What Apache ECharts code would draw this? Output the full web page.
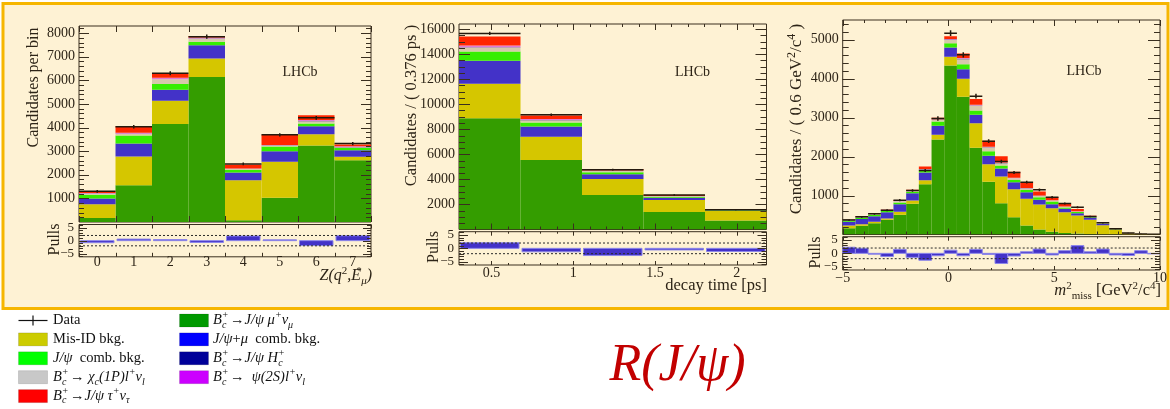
<!DOCTYPE html>
<html>
<head>
<meta charset="utf-8">
<title>R(J/ψ)</title>
<script src="https://cdn.jsdelivr.net/npm/echarts@6.0.0/dist/echarts.min.js"></script>
<style>
  html, body { margin: 0; padding: 0; background: #ffffff; }
  #chart { width: 1170px; height: 409px; }
</style>
</head>
<body>
<div id="chart"></div>
<script>
// ---------- Z(q^2, E*_mu) fit projection ----------
const zEdges    = [-0.5, 0.5, 1.5, 2.5, 3.5, 4.5, 5.5, 6.5, 7.5];
const zMu       = [170, 1560, 4150, 6140, 70, 1030, 3240, 2620];
const zMisId    = [580, 1210, 980, 780, 1700, 1520, 480, 140];
const zCombMu   = [250, 550, 470, 560, 330, 450, 340, 280];
const zJpsiComb = [150, 340, 240, 150, 110, 200, 110, 90];
const zChic     = [50, 70, 200, 130, 30, 40, 100, 40];
const zHc       = [5, 10, 10, 10, 5, 5, 10, 5];
const zPsi2S    = [20, 40, 60, 40, 20, 20, 40, 30];
const zTau      = [70, 270, 170, 70, 160, 430, 200, 80];
const zData     = [1300, 4030, 6300, 7850, 2460, 3690, 4410, 3320];
const zErr      = [60, 75, 85, 95, 55, 65, 75, 65];
const zPull     = [-0.8, 0.6, 0.4, -0.7, 1.8, 0.3, -1.9, 1.9];
const zTickLabels = [0, 1, 2, 3, 4, 5, 6, 7];
const zCountLabels = [1000, 2000, 3000, 4000, 5000, 6000, 7000, 8000];

// ---------- decay time fit projection ----------
const tEdges    = [0.302, 0.678, 1.054, 1.430, 1.806, 2.182];
const tMu       = [8880, 5550, 2750, 1390, 720];
const tMisId    = [2750, 1860, 1280, 960, 750];
const tCombMu   = [1840, 800, 370, 180, 50];
const tJpsiComb = [740, 320, 160, 80, 30];
const tChic     = [320, 190, 110, 40, 20];
const tHc       = [20, 10, 5, 5, 0];
const tPsi2S    = [140, 80, 30, 20, 10];
const tTau      = [720, 290, 130, 80, 20];
const tData     = [15650, 9150, 4770, 2750, 1570];
const tErr      = [130, 100, 70, 55, 40];
const tPull     = [2.1, -1.3, -2.7, -0.6, -1.2];
const tTickLabels = [0.5, 1, 1.5, 2];
const tCountLabels = [2000, 4000, 6000, 8000, 10000, 12000, 14000, 16000];

// ---------- m^2_miss fit projection ----------
const mEdges    = [-5, -4.4, -3.8, -3.2, -2.6, -2, -1.4, -0.8, -0.2, 0.4, 1, 1.6, 2.2,
                   2.8, 3.4, 4, 4.6, 5.2, 5.8, 6.4, 7, 7.6, 8.2, 8.8, 9.4, 10];
const mMu       = [160, 222, 290, 376, 504, 786, 1290, 2436, 4333, 3530, 2222, 1350, 803, 444, 230, 128, 68, 40, 25, 15, 8, 5, 2, 1, 0];
const mMisId    = [70, 43, 35, 34, 77, 86, 100, 120, 222, 461, 633, 453, 684, 718, 684, 641, 607, 533, 462, 361, 232, 123, 32, 11, 5];
const mCombMu   = [100, 135, 145, 163, 197, 188, 200, 230, 240, 248, 213, 214, 205, 180, 171, 120, 103, 85, 60, 60, 30, 7, 2, 1, 0];
const mJpsiComb = [30, 27, 34, 34, 42, 34, 50, 111, 111, 128, 111, 120, 78, 58, 55, 68, 68, 32, 28, 14, 10, 3, 1, 0, 0];
const mChic     = [15, 18, 16, 18, 30, 21, 27, 43, 84, 129, 121, 93, 60, 40, 40, 33, 24, 20, 15, 10, 10, 3, 1, 0, 0];
const mHc       = [2, 2, 2, 3, 3, 4, 5, 6, 8, 8, 6, 5, 4, 3, 3, 2, 2, 2, 1, 1, 1, 0, 0, 0, 0];
const mPsi2S    = [3, 5, 3, 5, 5, 5, 8, 10, 15, 20, 20, 15, 15, 10, 10, 8, 7, 5, 5, 3, 2, 1, 0, 0, 0];
const mTau      = [7, 20, 7, 11, 25, 25, 65, 40, 72, 116, 150, 155, 155, 157, 143, 102, 80, 71, 55, 15, 8, 3, 2, 1, 0];
const mData     = [370, 453, 530, 624, 880, 1128, 1640, 2974, 5162, 4607, 3547, 2393, 1872, 1590, 1342, 1145, 957, 795, 700, 462, 300, 145, 40, 15, 5];
const mErr      = [20, 21, 23, 25, 30, 34, 40, 55, 72, 68, 60, 49, 43, 40, 37, 34, 31, 28, 26, 21, 17, 12, 6, 4, 2];
const mPull     = [2.3, 1.9, -0.3, -1.2, 1.5, -1.5, -2.6, -0.9, 1.2, -0.9, 1.5, -0.4, -3.8, -1.0, 0.6, 1.6, -0.6, 1.0, 2.9, 0.6, 1.6, -0.6, -0.8, 1.0, -0.2];
const mTickLabels = [-5, 0, 5, 10];
const mCountLabels = [1000, 2000, 3000, 4000, 5000];

const pullLabels = [-5, 0, 5];
const pullBands = [2, -2];

// ---------- styling ----------
const FONT = '"Liberation Serif","Times New Roman",Times,serif';
const INK = '#2d2417';
const FRAME = '#3a2f1f';
const PANEL_BG = '#fef2d4';
const BORDER = '#f6b600';

const STACK_ORDER = ['mu', 'misId', 'combMu', 'jpsiComb', 'chic', 'hc', 'psi2s', 'tau'];
const FILL = {
  mu: '#349d00', misId: '#d5c600', combMu: '#4332c8', jpsiComb: '#36ee00',
  chic: '#d6c9ab', hc: '#23207a', psi2s: '#e07bd6', tau: '#ff2600'
};
const PULL_FILL = '#4332c8';
const PULL_EDGE = '#8c86ea';
const PULL_RANGE = [-6.25, 6.25];

const seq = (a, b, s) => { const out = []; for (let v = a; v <= b + 1e-9; v += s) out.push(Math.round(v * 1e6) / 1e6); return out; };
const signed = v => (v < 0 ? '\u2212' + Math.abs(v) : String(v));

const panels = [
  {
    edges: zEdges, comps: { mu: zMu, misId: zMisId, combMu: zCombMu, jpsiComb: zJpsiComb, chic: zChic, hc: zHc, psi2s: zPsi2S, tau: zTau },
    data: zData, err: zErr, pull: zPull,
    left: 79, width: 292, mainTop: 26, mainH: 196, pullTop: 224.5, pullH: 32.3,
    xMin: -0.5, xMax: 7.5, yMax: 8300,
    xMajor: zEdges, xMinor: [], xLabels: zTickLabels,
    yMajor: zCountLabels, yMinor: seq(200, 8200, 200), yLabels: zCountLabels,
    len: { yMaj: 10, yMin: 5, xMaj: 6, xMin: 3, pyMaj: 8, pyMin: 4, pxMaj: 4, pxMin: 2 },
    xLabelMargin: -1, pullInset: 1.5
  },
  {
    edges: tEdges, comps: { mu: tMu, misId: tMisId, combMu: tCombMu, jpsiComb: tJpsiComb, chic: tChic, hc: tHc, psi2s: tPsi2S, tau: tTau },
    data: tData, err: tErr, pull: tPull,
    left: 459, width: 307.5, mainTop: 24, mainH: 205.5, pullTop: 231.7, pullH: 33.3,
    xMin: 0.302, xMax: 2.182, yMax: 16400,
    xMajor: tTickLabels, xMinor: seq(0.4, 2.1, 0.1), xLabels: tTickLabels,
    yMajor: tCountLabels, yMinor: seq(500, 16000, 500), yLabels: tCountLabels,
    len: { yMaj: 11, yMin: 6, xMaj: 6, xMin: 3, pyMaj: 9, pyMin: 5, pxMaj: 4, pxMin: 2 },
    xLabelMargin: 1.3, pullInset: 1.5
  },
  {
    edges: mEdges, comps: { mu: mMu, misId: mMisId, combMu: mCombMu, jpsiComb: mJpsiComb, chic: mChic, hc: mHc, psi2s: mPsi2S, tau: mTau },
    data: mData, err: mErr, pull: mPull,
    left: 842.7, width: 317.3, mainTop: 20, mainH: 214.5, pullTop: 236.7, pullH: 33.3,
    xMin: -5, xMax: 10, yMax: 5500,
    xMajor: mTickLabels, xMinor: seq(-4, 9, 1), xLabels: mTickLabels,
    yMajor: mCountLabels, yMinor: seq(200, 5400, 200), yLabels: mCountLabels,
    len: { yMaj: 12, yMin: 6, xMaj: 6, xMin: 3, pyMaj: 9, pyMin: 5, pxMaj: 4, pxMin: 2 },
    xLabelMargin: 1.3, pullInset: 0
  }
];

const grids = [], xAxes = [], yAxes = [], series = [];

// one value axis per side that carries the tick labels; tick marks are drawn by frameTicks()
function labelAxis(list, extra) {
  list.push(Object.assign({
    type: 'value',
    axisLine: { show: false, onZero: false },
    axisTick: { show: false },
    splitLine: { show: false },
    axisPointer: { show: false }
  }, extra));
  return list.length - 1;
}

// inward ticks on all four sides of a frame, placed through the axes' own scales
function frameTicks(xi, yi, xr, yr, spec) {
  const rows = [];
  spec.xMaj.forEach(v => rows.push([v, 0, spec.xMajLen]));
  spec.xMin.forEach(v => rows.push([v, 0, spec.xMinLen]));
  spec.yMaj.forEach(v => rows.push([v, 1, spec.yMajLen]));
  spec.yMin.forEach(v => rows.push([v, 1, spec.yMinLen]));
  series.push({
    type: 'custom', name: 'ticks', xAxisIndex: xi, yAxisIndex: yi, clip: false, silent: true, z: 8,
    data: rows,
    renderItem(params, api) {
      const v = api.value(0), kind = api.value(1), L = api.value(2);
      const st = { stroke: FRAME, lineWidth: 1 };
      if (kind === 0) {
        const b = api.coord([v, yr[0]]), t = api.coord([v, yr[1]]);
        const x = Math.round(b[0]) + 0.5;
        return { type: 'group', children: [
          { type: 'line', shape: { x1: x, y1: b[1], x2: x, y2: b[1] - L }, style: st },
          { type: 'line', shape: { x1: x, y1: t[1], x2: x, y2: t[1] + L }, style: st }
        ] };
      }
      const l = api.coord([xr[0], v]), r = api.coord([xr[1], v]);
      const y = Math.round(l[1]) + 0.5;
      return { type: 'group', children: [
        { type: 'line', shape: { x1: l[0], y1: y, x2: l[0] + L, y2: y }, style: st },
        { type: 'line', shape: { x1: r[0], y1: y, x2: r[0] - L, y2: y }, style: st }
      ] };
    }
  });
}

function binRect(inset) {
  return function (params, api) {
    const p0 = api.coord([api.value(0), api.value(2)]);
    const p1 = api.coord([api.value(1), api.value(3)]);
    const x = Math.min(p0[0], p1[0]) + inset, y = Math.min(p0[1], p1[1]);
    const w = Math.abs(p1[0] - p0[0]) - 2 * inset, h = Math.abs(p1[1] - p0[1]);
    return { type: 'rect', shape: { x, y, width: w, height: h }, style: api.style() };
  };
}

function dataCross(params, api) {
  const a = api.coord([api.value(0), api.value(2)]);
  const b = api.coord([api.value(1), api.value(2)]);
  const xc = (a[0] + b[0]) / 2;
  const hi = api.coord([api.value(0), api.value(2) + api.value(3)])[1];
  const lo = api.coord([api.value(0), api.value(2) - api.value(3)])[1];
  const st = { stroke: '#24190d', lineWidth: 1.5 };
  return { type: 'group', children: [
    { type: 'line', shape: { x1: a[0], y1: a[1], x2: b[0], y2: b[1] }, style: st },
    { type: 'line', shape: { x1: xc, y1: hi, x2: xc, y2: lo }, style: st }
  ] };
}

function bandLine(params, api) {
  const a = api.coord([api.value(0), api.value(2)]);
  const b = api.coord([api.value(1), api.value(2)]);
  return { type: 'line', shape: { x1: a[0], y1: a[1], x2: b[0], y2: b[1] },
    style: { stroke: '#2a2a2a', lineWidth: 1, lineDash: [2, 2] } };
}

panels.forEach(P => {
  const gridBase = { left: P.left, width: P.width, show: true, borderColor: FRAME, borderWidth: 1,
    backgroundColor: 'transparent', containLabel: false, outerBoundsMode: 'none' };
  const gMain = grids.length;
  grids.push(Object.assign({}, gridBase, { top: P.mainTop, height: P.mainH }));
  const gPull = grids.length;
  grids.push(Object.assign({}, gridBase, { top: P.pullTop, height: P.pullH }));

  const xm = labelAxis(xAxes, { gridIndex: gMain, min: P.xMin, max: P.xMax, position: 'bottom', axisLabel: { show: false } });
  const ym = labelAxis(yAxes, { gridIndex: gMain, min: 0, max: P.yMax, position: 'left',
    axisLabel: { show: true, customValues: P.yLabels, formatter: signed, margin: 4, hideOverlap: false,
      color: INK, fontFamily: FONT, fontSize: 14 } });
  const xp = labelAxis(xAxes, { gridIndex: gPull, min: P.xMin, max: P.xMax, position: 'bottom',
    axisLabel: { show: true, customValues: P.xLabels, formatter: signed, margin: P.xLabelMargin, hideOverlap: false,
      color: INK, fontFamily: FONT, fontSize: 14 } });
  const yp = labelAxis(yAxes, { gridIndex: gPull, min: PULL_RANGE[0], max: PULL_RANGE[1], position: 'left',
    axisLabel: { show: true, customValues: pullLabels, formatter: signed, margin: 5, hideOverlap: false,
      color: INK, fontFamily: FONT, fontSize: 13 } });

  // stacked fit components
  const nBins = P.edges.length - 1;
  const base = new Array(nBins).fill(0);
  STACK_ORDER.forEach(key => {
    const vals = P.comps[key];
    const rows = vals.map((v, i) => { const r = [P.edges[i], P.edges[i + 1], base[i], base[i] + v]; base[i] += v; return r; });
    series.push({ type: 'custom', name: key, xAxisIndex: xm, yAxisIndex: ym, clip: true, silent: true,
      renderItem: binRect(0), data: rows, itemStyle: { color: FILL[key] }, z: 2 });
  });

  // data points with horizontal bin extent and vertical error
  series.push({ type: 'custom', name: 'data', xAxisIndex: xm, yAxisIndex: ym, clip: true, silent: true, z: 5,
    renderItem: dataCross, data: P.data.map((v, i) => [P.edges[i], P.edges[i + 1], v, P.err[i]]) });

  // pulls
  series.push({ type: 'custom', name: 'pulls', xAxisIndex: xp, yAxisIndex: yp, clip: true, silent: true, z: 3,
    renderItem: binRect(P.pullInset), itemStyle: { color: PULL_FILL, borderColor: PULL_EDGE, borderWidth: 1 },
    data: P.pull.map((v, i) => [P.edges[i], P.edges[i + 1], 0, v]) });
  series.push({ type: 'custom', name: 'bands', xAxisIndex: xp, yAxisIndex: yp, clip: true, silent: true, z: 4,
    renderItem: bandLine, data: pullBands.map(b => [P.xMin, P.xMax, b]) });

  frameTicks(xm, ym, [P.xMin, P.xMax], [0, P.yMax], {
    xMaj: P.xMajor, xMajLen: P.len.xMaj, xMin: P.xMinor, xMinLen: P.len.xMin,
    yMaj: P.yMajor, yMajLen: P.len.yMaj, yMin: P.yMinor, yMinLen: P.len.yMin });
  frameTicks(xp, yp, [P.xMin, P.xMax], PULL_RANGE, {
    xMaj: P.xMajor, xMajLen: P.len.pxMaj, xMin: P.xMinor, xMinLen: P.len.pxMin,
    yMaj: pullLabels, yMajLen: P.len.pyMaj, yMin: seq(-6, 6, 1), yMinLen: P.len.pyMin });
});

// ---------- text ----------
function richSet(size, color) {
  const sm = Math.round(size * 0.68);
  const base = { fontFamily: FONT, fill: color };
  return {
    n: Object.assign({}, base, { fontSize: size, lineHeight: size + 5 }),
    i: Object.assign({}, base, { fontSize: size, fontStyle: 'italic', lineHeight: size + 5 }),
    sup: Object.assign({}, base, { fontSize: sm, fontStyle: 'italic', lineHeight: sm - 2, verticalAlign: 'top' }),
    supz: Object.assign({}, base, { fontSize: sm, fontStyle: 'italic', lineHeight: sm - 2, verticalAlign: 'top', width: 0.1 }),
    supn: Object.assign({}, base, { fontSize: sm, lineHeight: sm - 2, verticalAlign: 'top' }),
    sub: Object.assign({}, base, { fontSize: sm, fontStyle: 'italic', lineHeight: sm - 2, verticalAlign: 'bottom' }),
    subn: Object.assign({}, base, { fontSize: sm, lineHeight: sm - 2, verticalAlign: 'bottom' })
  };
}

function label(x, y, text, size, opts) {
  opts = opts || {};
  return {
    type: 'text', x, y, rotation: opts.rotation || 0, silent: true, z: 10,
    style: { text, fontFamily: FONT, fontSize: size, fill: opts.color || INK, fontStyle: opts.italic ? 'italic' : 'normal',
      align: opts.align || 'center', verticalAlign: 'middle', rich: richSet(size, opts.color || INK) }
  };
}

const graphics = [
  { type: 'rect', z: -10, silent: true, shape: { x: 3, y: 3.5, width: 1165, height: 305 },
    style: { fill: PANEL_BG, stroke: BORDER, lineWidth: 3 } },

  label(34, 87.5, '{n|Candidates per bin}', 16, { rotation: Math.PI / 2 }),
  label(412, 105.5, '{n|Candidates / ( 0.376 ps )}', 16.5, { rotation: Math.PI / 2 }),
  label(797, 119, '{n|Candidates / ( 0.6 GeV}{supn|2}{n|/c}{supn|4}{n| )}', 17, { rotation: Math.PI / 2 }),

  label(55, 239.5, '{n|Pulls}', 16, { rotation: Math.PI / 2 }),
  label(434, 247, '{n|Pulls}', 16, { rotation: Math.PI / 2 }),
  label(816, 252.5, '{n|Pulls}', 16, { rotation: Math.PI / 2 }),

  label(372, 276, '{i|Z(q}{supn|2}{i|,E}{supz|*}{sub|μ}{i|)}', 16, { align: 'right' }),
  label(767, 286, '{n|decay time [ps]}', 16.5, { align: 'right' }),
  label(1161, 291, '{i|m}{supn|2}{subn|miss}{n| [GeV}{supn|2}{n|/c}{supn|4}{n|]}', 16.5, { align: 'right' }),

  label(300, 72.5, '{n|LHCb}', 14),
  label(692.5, 72.5, '{n|LHCb}', 14),
  label(1084, 71.5, '{n|LHCb}', 14),

  label(677.5, 366, 'R(J/ψ)', 52, { italic: true, color: '#c20000' })
];

// ---------- legend ----------
const legendLeft = [
  { text: '{n|Data}', color: null },
  { text: '{n|Mis-ID bkg.}', color: '#cccc00' },
  { text: '{i|J/ψ}{n|  comb. bkg.}', color: '#00ff00' },
  { text: '{i|B}{supz|+}{sub|c}{n| → }{i|χ}{sub|c}{i|(1P)l}{sup|+}{i|ν}{sub|l}', color: '#c8c8c8' },
  { text: '{i|B}{supz|+}{sub|c}{n| →}{i|J/ψ τ}{sup|+}{i|ν}{sub|τ}', color: '#ff0000' }
];
const legendRight = [
  { text: '{i|B}{supz|+}{sub|c}{n| →}{i|J/ψ μ}{sup|+}{i|ν}{sub|μ}', color: '#009900' },
  { text: '{i|J/ψ}{n|+}{i|μ}{n|  comb. bkg.}', color: '#0000ff' },
  { text: '{i|B}{supz|+}{sub|c}{n| →}{i|J/ψ H}{supz|+}{sub|c}', color: '#000099' },
  { text: '{i|B}{supz|+}{sub|c}{n| →  }{i|ψ(2S)l}{sup|+}{i|ν}{sub|l}', color: '#cc00ff' }
];

function addLegendColumn(items, swatchX, textX) {
  items.forEach((it, k) => {
    const cy = 320.5 + 18.9 * k;
    if (it.color) {
      graphics.push({ type: 'rect', silent: true, z: 10, shape: { x: swatchX, y: cy - 6.5, width: 29, height: 13 },
        style: { fill: it.color, stroke: 'rgba(0,0,0,0.12)', lineWidth: 1 } });
    } else {
      graphics.push({ type: 'line', silent: true, z: 10, shape: { x1: swatchX, y1: cy, x2: swatchX + 29, y2: cy },
        style: { stroke: '#111', lineWidth: 1.2 } });
      graphics.push({ type: 'line', silent: true, z: 10, shape: { x1: swatchX + 14.5, y1: cy - 5, x2: swatchX + 14.5, y2: cy + 5 },
        style: { stroke: '#111', lineWidth: 1.2 } });
    }
    graphics.push(label(textX, cy, it.text, 14.5, { align: 'left', color: '#111111' }));
  });
}
addLegendColumn(legendLeft, 18.5, 53);
addLegendColumn(legendRight, 179.5, 213);

const option = {
  animation: false,
  backgroundColor: '#ffffff',
  grid: grids,
  xAxis: xAxes,
  yAxis: yAxes,
  series,
  graphic: graphics
};

const chart = echarts.init(document.getElementById('chart'), null, { renderer: 'canvas' });
chart.setOption(option);
</script>
</body>
</html>
